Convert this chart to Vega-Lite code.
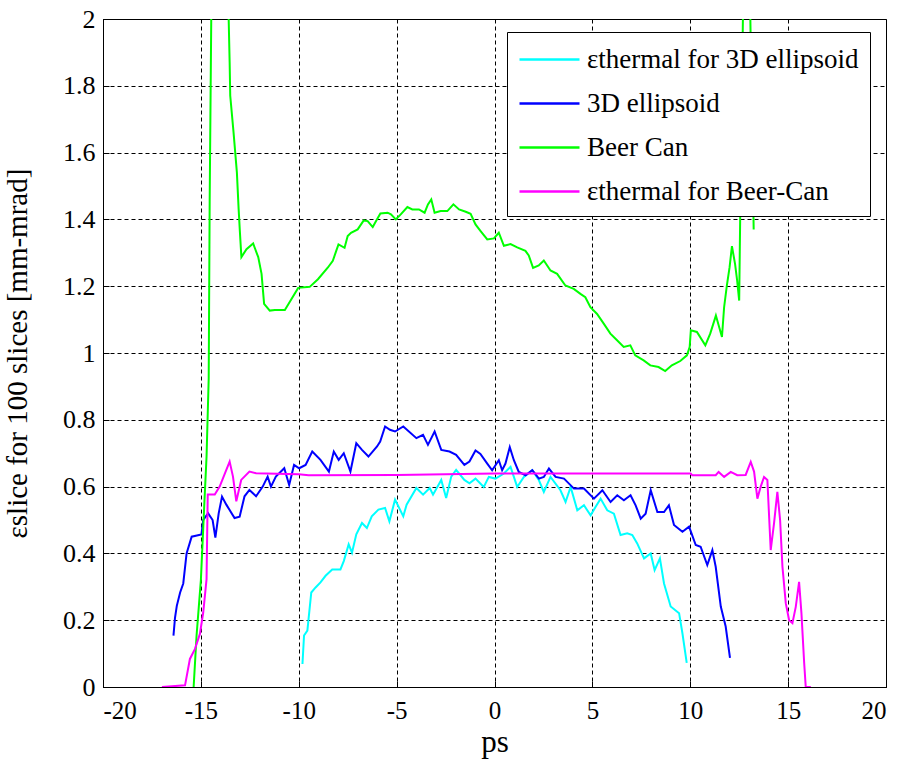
{
"$schema":"https://vega.github.io/schema/vega-lite/v6.json",
"width":783,"height":668,
"autosize":{"type":"none"},
"padding":{"left":103,"top":19,"right":16,"bottom":75},
"background":"white",
"datasets":{
"cyan":[[-9.81,0.069],[-9.73,0.154],[-9.56,0.169],[-9.36,0.283],[-9.14,0.298],[-8.89,0.313],[-8.63,0.333],[-8.29,0.352],[-7.87,0.352],[-7.7,0.377],[-7.45,0.427],[-7.28,0.402],[-7.06,0.457],[-6.77,0.491],[-6.52,0.476],[-6.27,0.511],[-5.93,0.531],[-5.59,0.536],[-5.37,0.496],[-5.08,0.561],[-4.66,0.511],[-4.49,0.546],[-3.99,0.596],[-3.65,0.576],[-3.31,0.596],[-3.14,0.576],[-2.72,0.62],[-2.47,0.566],[-2.21,0.63],[-1.96,0.65],[-1.54,0.62],[-1.28,0.61],[-0.97,0.624],[-0.55,0.599],[-0.29,0.629],[0.05,0.624],[0.48,0.639],[0.82,0.659],[1.16,0.599],[1.5,0.629],[1.93,0.649],[2.27,0.619],[2.52,0.584],[2.86,0.629],[3.37,0.589],[3.63,0.554],[3.89,0.599],[4.23,0.529],[4.57,0.544],[4.91,0.514],[5.16,0.539],[5.42,0.564],[5.76,0.529],[6.1,0.519],[6.44,0.455],[6.78,0.46],[7.04,0.455],[7.29,0.43],[7.64,0.385],[7.98,0.4],[8.18,0.35],[8.45,0.385],[8.66,0.31],[9.0,0.241],[9.43,0.221],[9.6,0.161],[9.82,0.072]],
"blue":[[-16.4,0.154],[-16.32,0.208],[-16.23,0.243],[-16.06,0.283],[-15.9,0.31],[-15.73,0.4],[-15.47,0.45],[-14.97,0.457],[-14.88,0.5],[-14.63,0.52],[-14.4,0.5],[-14.26,0.447],[-14.09,0.52],[-13.92,0.57],[-13.7,0.546],[-13.28,0.506],[-13.02,0.51],[-12.77,0.571],[-12.52,0.59],[-12.18,0.571],[-11.84,0.6],[-11.59,0.63],[-11.42,0.6],[-11.17,0.63],[-10.74,0.655],[-10.49,0.605],[-10.24,0.665],[-9.98,0.655],[-9.65,0.665],[-9.31,0.705],[-8.89,0.68],[-8.46,0.645],[-8.21,0.705],[-7.96,0.68],[-7.7,0.7],[-7.36,0.645],[-7.06,0.73],[-6.77,0.71],[-6.44,0.69],[-6.0,0.72],[-5.84,0.735],[-5.59,0.78],[-5.34,0.77],[-5.08,0.765],[-4.66,0.78],[-3.99,0.745],[-3.65,0.755],[-3.4,0.725],[-3.06,0.765],[-2.72,0.71],[-2.3,0.705],[-1.96,0.695],[-1.54,0.665],[-1.28,0.675],[-0.97,0.708],[-0.72,0.698],[-0.37,0.669],[-0.12,0.649],[0.22,0.679],[0.39,0.649],[0.56,0.669],[0.78,0.718],[0.99,0.679],[1.24,0.644],[1.59,0.634],[1.93,0.649],[2.27,0.624],[2.52,0.629],[2.78,0.654],[3.12,0.629],[3.55,0.624],[4.06,0.594],[4.57,0.594],[5.08,0.564],[5.51,0.589],[5.93,0.554],[6.27,0.574],[6.61,0.559],[6.95,0.574],[7.21,0.544],[7.47,0.504],[7.72,0.519],[7.98,0.589],[8.32,0.524],[8.66,0.524],[8.91,0.544],[9.17,0.485],[9.6,0.465],[9.94,0.48],[10.28,0.425],[10.53,0.42],[10.87,0.365],[11.13,0.41],[11.3,0.36],[11.56,0.241],[11.81,0.181],[12.03,0.087]],
"green":[[-15.37,0],[-15.22,0.154],[-15.0,0.32],[-14.83,0.54],[-14.71,0.69],[-14.6,0.924],[-14.55,1.46],[-14.47,2.0],[-14.43,2.1],[-13.62,2.1],[-13.58,2.0],[-13.53,1.87],[-13.5,1.77],[-13.33,1.66],[-13.16,1.54],[-13.07,1.43],[-13.01,1.366],[-12.93,1.287],[-12.67,1.311],[-12.33,1.328],[-12.07,1.287],[-11.9,1.237],[-11.77,1.147],[-11.48,1.127],[-11.22,1.129],[-10.71,1.129],[-10.37,1.162],[-10.03,1.195],[-9.44,1.198],[-9.02,1.221],[-8.51,1.256],[-8.26,1.276],[-8.09,1.305],[-7.97,1.325],[-7.66,1.315],[-7.5,1.35],[-7.33,1.36],[-6.99,1.37],[-6.68,1.397],[-6.48,1.395],[-6.22,1.377],[-6.05,1.395],[-5.83,1.418],[-5.46,1.42],[-5.29,1.415],[-5.04,1.4],[-4.79,1.415],[-4.45,1.437],[-4.2,1.43],[-3.86,1.43],[-3.57,1.42],[-3.4,1.445],[-3.23,1.46],[-3.06,1.42],[-2.75,1.425],[-2.41,1.425],[-2.1,1.445],[-1.81,1.43],[-1.47,1.423],[-1.22,1.417],[-0.97,1.385],[-0.71,1.365],[-0.37,1.34],[-0.03,1.343],[0.22,1.36],[0.48,1.321],[0.82,1.326],[1.16,1.316],[1.58,1.306],[1.75,1.292],[1.97,1.255],[2.26,1.262],[2.52,1.277],[2.86,1.247],[3.2,1.237],[3.62,1.202],[4.05,1.192],[4.39,1.177],[4.64,1.167],[4.9,1.137],[5.24,1.117],[5.58,1.088],[5.92,1.058],[6.26,1.038],[6.6,1.018],[6.94,1.023],[7.19,0.993],[7.62,0.978],[7.96,0.963],[8.38,0.958],[8.72,0.946],[9.06,0.963],[9.49,0.976],[9.83,0.993],[9.97,1.018],[10.03,1.068],[10.34,1.063],[10.77,1.023],[11.02,1.058],[11.31,1.112],[11.62,1.048],[11.73,1.137],[11.87,1.202],[12.01,1.257],[12.13,1.32],[12.29,1.266],[12.39,1.22],[12.5,1.157],[12.55,1.4],[12.69,2.0],[12.72,2.1],[13.04,2.1],[13.07,2.0],[13.24,1.37]],
"magenta":[[-16.99,0],[-15.81,0.005],[-15.56,0.084],[-15.3,0.114],[-15.05,0.159],[-14.88,0.223],[-14.71,0.323],[-14.65,0.576],[-14.29,0.576],[-14.04,0.6],[-13.7,0.65],[-13.53,0.675],[-13.36,0.63],[-13.19,0.556],[-12.94,0.62],[-12.52,0.645],[-12.18,0.64],[-10,0.637],[-9.5,0.634],[-5,0.635],[0,0.639],[10.02,0.639],[10.1,0.634],[11.3,0.634],[11.45,0.644],[11.73,0.629],[12.07,0.644],[12.4,0.634],[12.83,0.635],[13.09,0.674],[13.26,0.645],[13.43,0.564],[13.6,0.6],[13.77,0.629],[13.94,0.62],[14.11,0.41],[14.28,0.49],[14.45,0.584],[14.59,0.5],[14.71,0.36],[14.88,0.251],[15.05,0.2],[15.22,0.191],[15.39,0.24],[15.56,0.315],[15.68,0.221],[15.82,0.072],[15.9,0],[16.16,0]]
},
"layer":[
{"data":{"name":"cyan"},"transform":[{"calculate":"datum[0]","as":"x"},{"calculate":"datum[1]","as":"y"},{"calculate":"'εthermal for 3D ellipsoid'","as":"s"}],
 "mark":{"type":"line","clip":true,"strokeWidth":2},
 "encoding":{"x":{"field":"x","type":"quantitative"},"y":{"field":"y","type":"quantitative"},"color":{"field":"s","type":"nominal"}}},
{"data":{"name":"blue"},"transform":[{"calculate":"datum[0]","as":"x"},{"calculate":"datum[1]","as":"y"},{"calculate":"'3D ellipsoid'","as":"s"}],
 "mark":{"type":"line","clip":true,"strokeWidth":2},
 "encoding":{"x":{"field":"x","type":"quantitative"},"y":{"field":"y","type":"quantitative"},"color":{"field":"s","type":"nominal"}}},
{"data":{"name":"green"},"transform":[{"calculate":"datum[0]","as":"x"},{"calculate":"datum[1]","as":"y"},{"calculate":"'Beer Can'","as":"s"}],
 "mark":{"type":"line","clip":true,"strokeWidth":2},
 "encoding":{"x":{"field":"x","type":"quantitative"},"y":{"field":"y","type":"quantitative"},"color":{"field":"s","type":"nominal"}}},
{"data":{"name":"magenta"},"transform":[{"calculate":"datum[0]","as":"x"},{"calculate":"datum[1]","as":"y"},{"calculate":"'εthermal for Beer-Can'","as":"s"}],
 "mark":{"type":"line","clip":true,"strokeWidth":2},
 "encoding":{
  "x":{"field":"x","type":"quantitative","scale":{"domain":[-20,20],"nice":false},"axis":{"title":"ps","values":[-20,-15,-10,-5,0,5,10,15,20],"labelExpr":"'' + datum.value","labelFontSize":25,"labelPadding":17,"titleFontSize":31,"titlePadding":4}},
  "y":{"field":"y","type":"quantitative","scale":{"domain":[0,2],"nice":false},"axis":{"title":"εslice for 100 slices [mm-mrad]","values":[0,0.2,0.4,0.6,0.8,1,1.2,1.4,1.6,1.8,2],"format":"~g","labelFontSize":26,"labelPadding":14,"titleFontSize":29,"titlePadding":30}},
  "color":{"field":"s","type":"nominal","scale":{"domain":["εthermal for 3D ellipsoid","3D ellipsoid","Beer Can","εthermal for Beer-Can"],"range":["#00FFFF","#0000FF","#00FF00","#FF00FF"]},
   "legend":{"title":null,"orient":"none","legendX":404,"legendY":13,"symbolType":"M-1,0H3","symbolSize":900,"symbolStrokeWidth":2.5,"rowPadding":14,"padding":11,"strokeColor":"black","fillColor":"white","labelFont":"Liberation Serif","labelFontSize":27,"labelColor":"black","labelOffset":36,"labelLimit":600,"cornerRadius":0}}}}
],
"config":{
 "view":{"stroke":"black","strokeWidth":1},
 "axis":{"domainColor":"black","gridColor":"black","gridOpacity":1,"gridDash":[4,3],"gridWidth":1,"tickColor":"black","tickSize":-6,"labelFont":"Liberation Serif","labelColor":"black","titleFont":"Liberation Serif","titleFontWeight":"normal","titleColor":"black"}
}
}
